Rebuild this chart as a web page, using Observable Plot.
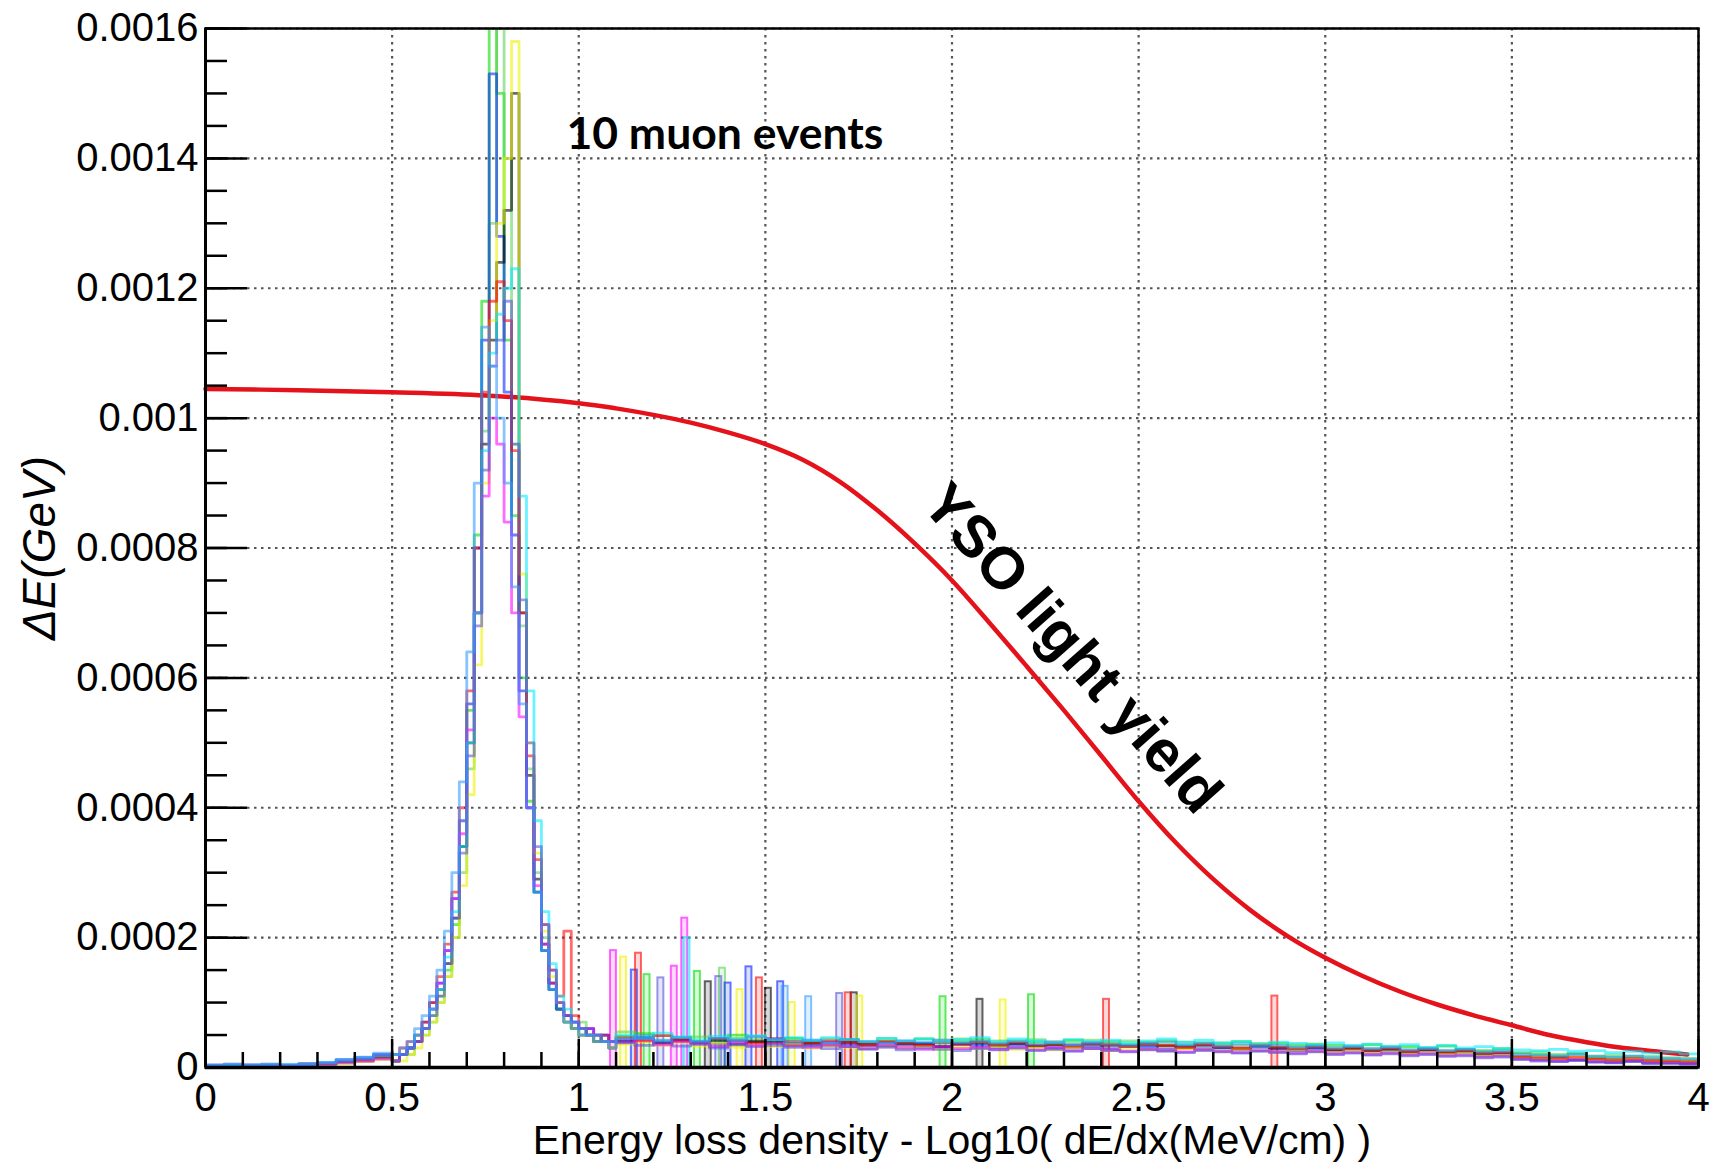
<!DOCTYPE html>
<html>
<head>
<meta charset="utf-8">
<script src="https://cdn.jsdelivr.net/npm/d3@7"></script>
<script src="https://cdn.jsdelivr.net/npm/@observablehq/plot@0.6"></script>
<style>
  html, body { margin: 0; padding: 0; background: #fff; }
  #chart svg { display: block; }
</style>
</head>
<body>
<div id="chart"></div>
<script>
// ---------------- data ----------------
const unit = 1e-5; // histogram & curve values below are in units of 1e-5 GeV

const xTicks = [0, 0.5, 1, 1.5, 2, 2.5, 3, 3.5, 4];
const xTickLabels = ["0", "0.5", "1", "1.5", "2", "2.5", "3", "3.5", "4"];
const yTicks = [0, 0.0002, 0.0004, 0.0006, 0.0008, 0.001, 0.0012, 0.0014, 0.0016];
const yTickLabels = ["0", "0.0002", "0.0004", "0.0006", "0.0008", "0.001", "0.0012", "0.0014", "0.0016"];

const xTitle = "Energy loss density - Log10( dE/dx(MeV/cm) )";
const yTitle = "ΔE(GeV)";

// histogram binning (lower edge of first bin, bin width)
const lowStart = 0.0, lowWidth = 0.05;    // 10 bins 0 – 0.5
const peakStart = 0.5, peakWidth = 0.02;  // 30 bins 0.5 – 1.1
const tailStart = 1.1, tailWidth = 0.05;  // 58 bins 1.1 – 4.0

const eventNames = ["ev1", "ev2", "ev3", "ev4", "ev5", "ev6", "ev7", "ev8", "ev9", "ev10"];
const eventColors = ["#00dd00", "#59d454", "#0022ff", "#000000", "#f0f000", "#ff0000", "#ff00ff", "#00e8ff", "#5954d9", "#3399ff"];

const lowValues = [
  [0.2,0.2,0.3,0.2,0.3,0.3,0.5,0.8,1.1,1.6],
  [0.1,0.2,0.2,0.3,0.2,0.4,0.6,0.7,1.2,1.4],
  [0.4,0.5,0.4,0.5,0.4,0.6,0.7,1.2,1.5,2.0],
  [0.2,0.3,0.2,0.3,0.3,0.4,0.5,0.9,1.0,1.5],
  [0.1,0.1,0.2,0.2,0.2,0.3,0.4,0.6,0.9,1.2],
  [0.2,0.2,0.2,0.3,0.3,0.5,0.6,1.0,1.3,1.7],
  [0.1,0.2,0.2,0.2,0.3,0.3,0.5,0.7,1.0,1.3],
  [0.3,0.4,0.3,0.4,0.4,0.5,0.7,1.1,1.4,1.8],
  [0.2,0.2,0.3,0.3,0.3,0.4,0.6,0.9,1.3,1.9],
  [0.3,0.3,0.4,0.3,0.4,0.5,0.8,1.2,1.6,2.2]
];

const peakValues = [
  [1,2,3,4,6,8,11,15,22,34, 55,82,118,175,150,112,85,60,41,27, 18,12,9,7,6,5,6,4,5,4],
  [1,2,2,4,5,7,10,14,20,30, 46,70,98,130,182,140,96,68,46,30, 20,13,10,8,6,7,5,5,4,4],
  [2,2,3,5,7,10,13,18,26,38, 56,80,112,153,128,104,82,58,40,27, 18,12,9,7,7,5,6,4,4,4],
  [1,2,3,4,6,9,12,16,23,34, 50,70,96,112,124,132,150,70,45,29, 19,13,9,8,6,6,5,4,5,3],
  [1,1,2,3,5,7,10,14,20,28, 42,62,90,115,130,140,158,76,50,33, 21,14,10,7,6,5,5,4,4,3],
  [2,3,4,5,7,10,14,19,27,40, 58,80,104,118,121,115,95,70,48,32, 22,15,11,21,8,6,5,5,4,4],
  [1,2,3,4,6,9,13,18,26,36, 52,70,88,100,96,84,70,54,40,28, 19,13,10,8,7,6,6,5,5,4],
  [2,2,3,5,6,9,12,17,24,34, 50,70,95,110,116,120,123,88,58,38, 24,16,11,9,7,6,5,5,4,4],
  [1,2,3,4,6,8,11,16,23,33, 48,68,92,108,112,118,96,72,50,34, 22,15,10,8,7,6,5,5,4,4],
  [2,3,4,6,8,11,15,21,30,44, 64,90,114,108,100,90,74,56,40,27, 18,12,9,7,6,5,5,4,4,3]
];

const tailValues = [
  [4.8,5.2,4.1,4.6,3.9,4.4,5.0,4.2,3.8,4.5, 4.0,3.6,4.3,3.9,4.1,3.7,4.4,3.8,4.0,4.3, 3.6,4.1,3.9,3.5,4.2,3.8,4.0,3.6,3.9,4.1, 3.4,3.8,3.6,4.0,3.5,3.7,3.3,3.6,3.4,3.1, 3.5,3.0,3.2,2.9,3.3,2.8,2.6,2.9,2.2,2.0, 1.8,2.1,1.6,1.5,1.7,1.3,1.2,1.1],
  [5.5,4.6,4.9,4.2,4.7,4.0,4.5,4.8,4.1,4.3, 3.9,4.4,4.2,3.8,4.5,4.0,3.7,4.2,4.4,3.9, 4.1,3.7,4.3,4.0,3.8,4.2,3.6,4.1,3.8,3.5, 3.9,3.6,3.8,3.4,3.7,3.2,3.5,3.4,3.0,3.3, 2.9,3.2,2.7,3.0,2.6,2.8,2.4,2.5,2.3,2.4, 2.0,2.2,1.8,1.9,1.6,1.7,1.5,1.4],
  [4.2,4.6,3.8,4.3,4.0,3.6,4.1,3.9,4.4,3.7, 3.5,3.9,3.6,3.3,3.8,3.4,3.7,3.2,3.6,3.4, 3.1,3.5,3.3,3.0,3.4,3.2,2.9,3.3,3.1,2.8, 3.2,2.9,3.0,2.7,3.1,2.8,2.6,2.9,2.5,2.7, 2.4,2.6,2.2,2.5,2.1,2.3,1.9,2.0,1.4,1.2, 1.0,1.1,0.9,0.8,1.0,0.7,0.8,0.6],
  [4.0,4.4,3.7,4.1,3.8,4.2,3.6,4.0,3.9,3.5, 3.8,3.4,3.9,3.6,3.3,3.7,3.5,3.2,3.6,3.8, 3.4,3.7,3.3,3.5,3.1,3.6,3.4,3.2,3.5,3.3, 3.0,3.4,3.1,2.9,3.3,3.0,2.8,3.1,2.7,2.9, 2.6,2.8,2.4,2.7,2.3,2.5,2.1,2.2,1.6,1.4, 1.5,1.2,1.3,1.0,1.1,0.9,0.8,0.7],
  [3.6,4.0,3.4,3.8,3.3,3.7,3.1,3.5,3.2,3.6, 3.0,3.4,3.1,2.9,3.3,3.0,3.2,2.8,3.1,2.9, 3.2,2.8,3.0,2.7,3.1,2.9,2.6,3.0,2.8,2.6, 2.9,2.7,2.5,2.8,2.6,2.4,2.7,2.5,2.3,2.6, 2.2,2.4,2.1,2.3,2.0,2.2,1.8,1.9,1.5,1.4, 1.3,1.5,1.2,1.1,1.3,1.0,0.9,0.9],
  [4.6,4.1,4.9,4.3,3.9,4.5,4.2,3.8,4.4,4.0, 3.7,4.1,3.9,3.5,4.0,3.7,3.4,3.8,3.6,3.9, 3.5,3.8,3.4,3.6,3.3,3.7,3.5,3.2,3.6,3.4, 3.1,3.5,3.2,3.0,3.4,3.1,2.9,3.2,2.8,3.0, 2.7,2.9,2.5,2.8,2.4,2.6,2.2,2.3,1.7,1.6, 1.4,1.6,1.3,1.2,1.4,1.1,1.0,0.9],
  [3.9,4.3,3.5,4.0,3.6,3.2,3.8,3.4,3.7,3.3, 3.1,3.5,3.2,2.9,3.4,3.0,2.8,3.2,2.9,3.1, 2.8,3.1,2.7,3.0,2.6,2.9,2.7,2.5,2.8,2.6, 2.4,2.7,2.5,2.3,2.6,2.4,2.2,2.5,2.1,2.3, 2.0,2.2,1.9,2.1,1.8,1.9,1.6,1.7,1.3,1.1, 1.0,1.2,0.9,0.8,1.0,0.7,0.7,0.6],
  [5.0,4.5,5.3,4.7,4.2,4.8,4.4,4.9,4.3,4.6, 4.2,4.6,4.3,4.0,4.5,4.1,4.4,3.9,4.3,4.6, 4.0,4.4,4.1,3.8,4.3,4.0,4.2,3.8,4.1,4.4, 3.9,4.2,3.8,4.0,3.6,3.9,3.7,3.5,3.8,3.4, 3.6,3.3,3.5,3.1,3.4,3.0,3.2,2.9,2.7,2.6, 2.8,2.5,2.6,2.3,2.5,2.2,2.4,2.1],
  [3.8,3.4,3.9,3.3,3.6,3.0,3.5,3.2,3.4,3.1, 3.3,2.9,3.2,2.8,3.1,2.7,3.0,2.8,2.6,2.9, 2.7,3.0,2.6,2.8,2.5,2.9,2.6,2.4,2.7,2.5, 2.3,2.6,2.4,2.2,2.5,2.3,2.1,2.4,2.0,2.2, 1.9,2.1,1.8,2.0,1.7,1.8,1.5,1.6,1.2,1.0, 0.9,1.1,0.8,0.7,0.9,0.6,0.6,0.5],
  [4.4,4.9,4.2,4.6,4.0,4.5,4.1,4.7,4.3,3.9, 4.2,3.8,4.3,4.0,3.7,4.1,3.9,4.2,3.8,4.0, 3.7,4.0,3.6,3.9,3.5,3.8,3.6,3.4,3.7,3.9, 3.5,3.7,3.3,3.6,3.2,3.4,3.1,3.3,3.0,3.2, 2.9,3.1,2.7,2.9,2.6,2.8,2.4,2.5,2.0,1.9, 1.8,2.0,1.7,1.6,1.8,1.5,1.4,1.3]
];

// isolated single-bin spikes in the tail: [centre x, height]
const spikes = [
  [[1.183,14.3],[1.318,14.8],[1.976,10.9],[2.213,11.2]],
  [[1.385,15.3]],
  [[1.149,15.0],[1.400,13.0],[1.456,15.5],[1.541,13.2]],
  [[1.347,13.2],[1.508,12.2],[1.738,11.5],[2.075,10.5]],
  [[1.120,17.0],[1.432,12.0],[1.572,10.0],[1.753,11.0],[2.137,10.4]],
  [[1.160,17.6],[1.484,13.8],[1.722,11.5],[2.414,10.5],[2.865,11.0]],
  [[1.093,18.0],[1.256,15.6],[1.284,23.0]],
  [[1.290,20.0]],
  [[1.220,13.8],[1.375,14.0],[1.699,11.4]],
  [[1.553,12.5],[1.616,10.9]]
];
const spikeWidth = 0.016;

// YSO light-yield curve
const yieldX = [0, 0.25, 0.5, 0.75, 1.0, 1.1, 1.2, 1.3, 1.4, 1.5, 1.6, 1.7, 1.8, 1.9, 2.0, 2.1, 2.2, 2.3, 2.4, 2.5, 2.6, 2.7, 2.8, 2.9, 3.0, 3.1, 3.2, 3.3, 3.4, 3.5, 3.6, 3.7, 3.8, 3.9, 3.97];
const yieldY = [104.5, 104.3, 104.0, 103.5, 102.3, 101.5, 100.5, 99.3, 97.8, 96.0, 93.6, 90.2, 85.8, 80.7, 75.0, 68.5, 61.8, 55.0, 48.0, 41.0, 34.6, 29.0, 24.2, 20.2, 16.9, 14.1, 11.7, 9.7, 8.0, 6.5, 5.0, 3.9, 3.0, 2.4, 2.0];

const annotations = [
  {label: "10 muon events", x: 0.967, y: 141.5},
  {label: "YSO light yield", x: 2.322, y: 64.5}
];

// ---------------- build tables ----------------
const histPts = [];
eventNames.forEach((ev, i) => {
  const bins = [];
  lowValues[i].forEach((v, k) => bins.push({x: lowStart + k * lowWidth, v}));
  peakValues[i].forEach((v, k) => bins.push({x: peakStart + k * peakWidth, v}));
  tailValues[i].forEach((v, k) => bins.push({x: tailStart + k * tailWidth, v}));
  bins.forEach(b => histPts.push({event: ev, x: b.x, y: b.v * unit}));
  histPts.push({event: ev, x: 4, y: bins[bins.length - 1].v * unit});
});
const spikeRects = [];
eventNames.forEach((ev, i) => spikes[i].forEach(([x, h]) =>
  spikeRects.push({event: ev, x1: x - spikeWidth / 2, x2: x + spikeWidth / 2, y: h * unit})));
const yieldPts = yieldX.map((x, i) => ({x, y: yieldY[i] * unit}));

const xMinor = d3.range(0, 40.5, 1).map(d => d / 10);
const yMinor = d3.range(0, 32.5, 1).map(d => d * 0.00005);

// ---------------- plot ----------------
const W = 1716, H = 1162;
const M = {top: 28, right: 18, bottom: 95, left: 205};
const innerW = W - M.left - M.right;
const innerH = H - M.top - M.bottom;
const font = "'Liberation Sans', Arial, Helvetica, sans-serif";
const grid = {stroke: "#555", strokeWidth: 2.2, strokeDasharray: "2.5,4.5"};

const chart = Plot.plot({
  width: W, height: H,
  marginTop: M.top, marginRight: M.right, marginBottom: M.bottom, marginLeft: M.left,
  style: {fontFamily: font, fontSize: "40px", color: "#000", background: "#fff"},
  x: {domain: [0, 4], ticks: xTicks, tickFormat: d => xTickLabels[xTicks.indexOf(d)], tickSize: 0, tickPadding: 15, label: null},
  y: {domain: [0, 0.0016], ticks: yTicks, tickFormat: d => yTickLabels[yTicks.indexOf(d)], tickSize: 0, tickPadding: 7, label: null},
  color: {domain: eventNames, range: eventColors},
  marks: [
    Plot.ruleX(xTicks, grid),
    Plot.ruleY(yTicks, grid),
    Plot.line(yieldPts, {x: "x", y: "y", stroke: "#e3121b", strokeWidth: 4.5, curve: "catmull-rom"}),
    Plot.rect(spikeRects, {x1: "x1", x2: "x2", y1: 0, y2: "y", stroke: "event", fill: "event", fillOpacity: 0.15, strokeOpacity: 0.6, strokeWidth: 2}),
    Plot.line(histPts, {x: "x", y: "y", z: "event", stroke: "event", strokeWidth: 2.8, strokeOpacity: 0.58, curve: "step-after", clip: true}),
    // ticks (inside, ROOT style)
    Plot.tickY(yMinor, {y: d => d, stroke: "#000", strokeWidth: 2.5, insetRight: innerW - 22}),
    Plot.tickY(yTicks, {y: d => d, stroke: "#000", strokeWidth: 2.5, insetRight: innerW - 42}),
    Plot.tickX(xMinor, {x: d => d, stroke: "#000", strokeWidth: 2.5, insetTop: innerH - 15}),
    Plot.tickX(xTicks, {x: d => d, stroke: "#000", strokeWidth: 2.5, insetTop: innerH - 28}),
    Plot.frame({stroke: "#000", strokeWidth: 2.5}),
    Plot.ruleX([0], {stroke: "#000", strokeWidth: 3}),
    Plot.ruleY([0], {stroke: "#000", strokeWidth: 3.5}),
    // annotations
    Plot.text([annotations[0]], {x: "x", y: d => d.y * unit, text: "label", textAnchor: "start", lineAnchor: "bottom",
      fontFamily: "Lato, 'Open Sans', sans-serif", fontWeight: 700, fontSize: 44.5, fill: "#000"}),
    Plot.text([annotations[1]], {x: "x", y: d => d.y * unit, text: "label", textAnchor: "middle", lineAnchor: "middle",
      rotate: 48.5, fontFamily: font, fontWeight: 700, fontSize: 59, fill: "#000"}),
    // axis titles
    Plot.text([xTitle], {text: d => d, frameAnchor: "bottom", textAnchor: "middle", dy: 57, lineAnchor: "top", fontSize: 41, fill: "#000"}),
    Plot.text([yTitle], {text: d => d, frameAnchor: "left", textAnchor: "middle", dx: -165, rotate: -90, lineAnchor: "middle", fontSize: 46, fontStyle: "italic", fill: "#000"})
  ]
});
document.getElementById("chart").appendChild(chart);
</script>
</body>
</html>
